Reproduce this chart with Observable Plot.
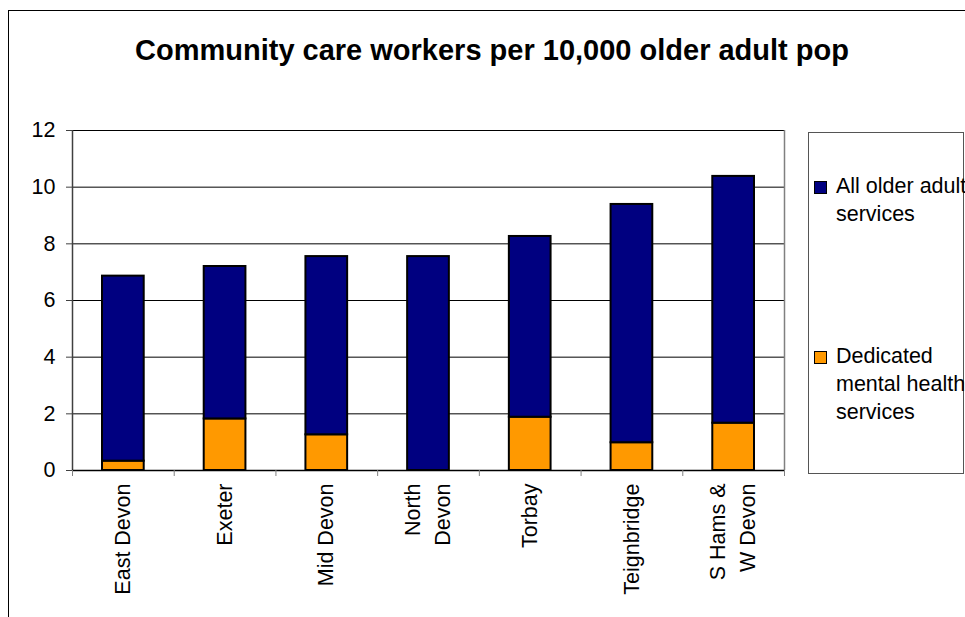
<!DOCTYPE html>
<html>
<head>
<meta charset="utf-8">
<script src="https://cdn.jsdelivr.net/npm/d3@7"></script>
<script src="https://cdn.jsdelivr.net/npm/@observablehq/plot@0.6"></script>
<style>
  html, body { margin: 0; padding: 0; background: #fff; }
  #wrap { position: relative; width: 965px; height: 617px; overflow: hidden; font-family: "Liberation Sans", Arial, sans-serif; color: #000; }
  #frame { position: absolute; left: 8px; top: 10px; width: 970px; height: 620px; border-left: 1.5px solid #000; border-top: 1.5px solid #000; }
  #title { position: absolute; left: 0; top: 35.5px; width: 984px; text-align: center; font-weight: bold; font-size: 29px; line-height: 29px; white-space: nowrap; }
  #chart { position: absolute; left: 0; top: 120px; }
  #legend { position: absolute; left: 808px; top: 132px; width: 156px; height: 342px; border: 1.5px solid #555; box-sizing: border-box; }
  .item { position: absolute; left: 27px; font-size: 21.5px; line-height: 28px; white-space: nowrap; }
  .sw { position: absolute; left: -22px; width: 11px; height: 11px; border: 1.5px solid #000; }
</style>
</head>
<body>
<div id="wrap">
  <div id="frame"></div>
  <div id="title">Community care workers per 10,000 older adult pop</div>
  <div id="chart"></div>
  <div id="legend"></div>
</div>
<script>
// Data
const categories = ["East Devon", "Exeter", "Mid Devon", "North\nDevon", "Torbay", "Teignbridge", "S Hams &\nW Devon"];
const dedicatedMH = [0.33, 1.82, 1.26, 0.0, 1.88, 0.98, 1.67];   // orange (bottom segment)
const allOlderAdult = [6.53, 5.38, 6.29, 7.55, 6.38, 8.41, 8.71]; // navy (top segment)
const yTicks = [0, 2, 4, 6, 8, 10, 12];
const seriesNames = ["All older adult services", "Dedicated mental health services"];
const seriesColors = ["#000080", "#FF9900"];

const rows = categories.map((c, i) => ({
  i, label: c,
  mh: dedicatedMH[i],
  all: allOlderAdult[i]
}));

const font = "Liberation Sans, Arial, sans-serif";

const chart = Plot.plot({
  width: 965,
  height: 497,
  marginLeft: 72,
  marginRight: 181,
  marginTop: 10,
  marginBottom: 147,
  style: { fontFamily: font, fontSize: "21.5px", color: "#000", background: "transparent", overflow: "visible" },
  x: { type: "linear", domain: [0, categories.length], axis: null, label: null },
  y: { domain: [0, 12], axis: null, label: null },
  marks: [
    Plot.ruleY(yTicks, { stroke: "#000", strokeWidth: 1 }),
    Plot.ruleX([categories.length], { stroke: "#808080", strokeWidth: 1.5 }),
    Plot.rectY(rows, { x1: "i", x2: d => d.i + 1, y1: 0, y2: "mh", fill: seriesColors[1], stroke: "#000", strokeWidth: 2, insetLeft: 30, insetRight: 30 }),
    Plot.rectY(rows, { x1: "i", x2: d => d.i + 1, y1: "mh", y2: d => d.mh + d.all, fill: seriesColors[0], stroke: "#000", strokeWidth: 2, insetLeft: 30, insetRight: 30 }),
    Plot.ruleX([0], { stroke: "#404040", strokeWidth: 1.5 }),
    Plot.ruleY([0], { stroke: "#000", strokeWidth: 1.5 }),
    Plot.axisY({ ticks: yTicks, tickSize: 6, tickPadding: 11, tickFormat: d => String(d), stroke: "#404040", fontSize: 21.5, fill: "#000", label: null }),
    Plot.axisX({ ticks: d3.range(categories.length + 1), tickSize: 6, tickFormat: () => "", stroke: "#808080", label: null }),
    Plot.axisX({ ticks: d3.range(categories.length).map(i => i + 0.5), tickSize: 0, tickPadding: 13, tickRotate: -90, tickFormat: d => categories[Math.floor(d)], fontSize: 21.5, lineHeight: 1.4, dx: -3, fill: "#000", label: null })
  ]
});
document.getElementById("chart").appendChild(chart);

// Legend (HTML, beside the SVG)
const legend = document.getElementById("legend");
const legendLines = [["All older adult", "services"], ["Dedicated", "mental health", "services"]];
const itemTops = [39, 209];
seriesNames.forEach((name, k) => {
  const item = document.createElement("div");
  item.className = "item";
  item.style.top = itemTops[k] + "px";
  item.innerHTML = legendLines[k].join("<br>");
  const sw = document.createElement("div");
  sw.className = "sw";
  sw.style.background = seriesColors[k];
  sw.style.top = "9px";
  item.appendChild(sw);
  item.title = name;
  legend.appendChild(item);
});
</script>
</body>
</html>
